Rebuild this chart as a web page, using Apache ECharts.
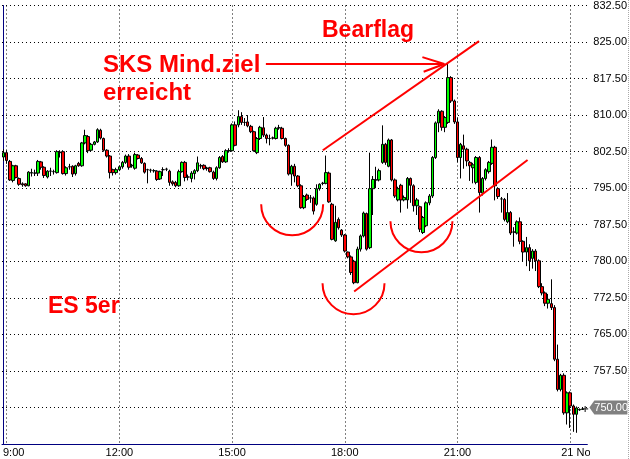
<!DOCTYPE html>
<html><head><meta charset="utf-8">
<script src="https://cdn.jsdelivr.net/npm/echarts@6/dist/echarts.min.js"></script>
<style>html,body{margin:0;padding:0;background:#fff}#c{width:630px;height:459px}</style>
</head><body><div id="c"></div>
<script>
// ---- time axis ----
const startMinutes = 8 * 60 + 55;   // first 5-minute bar: 8:55
const barMinutes = 5;
const categoryCount = 187;
const tickLabels = {'9:00': '9:00', '12:00': '12:00', '15:00': '15:00', '18:00': '18:00', '21:00': '21:00', '0:00': '21 Nov'};

// ---- price axis ----
const priceMin = 742.5, priceMax = 832.5, priceStep = 7.5;
const lastPrice = 750.00;

// ---- OHLC (5-minute bars) ----
const opens = [801.4,802.3,800.5,796.6,799.6,797,795.9,795.9,795.5,798.1,
798.1,798.1,800.4,799.3,797.3,798.5,798.4,798.2,802.3,802.5,
798,799.4,799.5,798,800.1,799.6,804.3,805.6,802.8,804,
804.5,806.9,805.2,802.8,801.6,798.8,798.2,798.8,799.4,800.3,
801.6,799.6,799.1,801.8,801.1,800.1,798.8,798.7,798.6,798.5,
796.9,798.8,798.9,798.5,796.3,796.2,795.5,798.4,800.3,797.3,
797,798,798.6,799.6,799.7,799.1,799.2,798.3,797,799.2,
801.5,800.4,802.7,802.7,808,808,809.7,808.5,808.6,807.7,
806.6,802.3,805.2,807.4,805.9,805.2,805.3,805.2,807.4,807.3,
805.2,803.8,797.9,799.5,797.5,795.5,791,793.6,793,793,
791.7,794.9,796,796,798.1,791.7,784.2,788.6,786.4,785.4,
781.9,780.9,780,775.6,782.5,785.2,789.8,782.8,794.9,796.7,
796.7,800.3,804,799.5,804.9,796.7,792.6,795.6,792.6,792.6,
797,795.5,791.4,791.2,785.9,787.3,792,793.4,801.3,808.4,
810.8,807.5,808.5,817.7,812.9,808.6,801.3,803.7,803,800.3,
799.2,796.2,801.3,794,797,798.4,800.1,803.4,794.9,792.8,
792.7,788.1,790,786,785.8,788.1,784.1,781.9,782.8,780.6,
782.1,780.1,774.8,773.5,771.4,771.3,770.5,759.9,753.7,756.6,
748.9,753,750.3,748.6,749.5,749.6];
const closes = [802.3,800.7,796.7,799.6,797.2,795.8,795.7,795.5,798.3,798.2,
798.1,800.5,799.3,797.6,798.5,798.5,798.4,802.5,802.4,798,
799.2,799.4,797.9,799.6,799.6,804.3,805.8,802.7,804,804.5,
807,805.3,802.8,801.6,798.2,798.2,798.8,799.4,800.3,801.6,
799.3,799.7,801.9,801.1,800.2,798.3,798.8,798.7,798.6,796.8,
798.4,798.8,798.9,796.2,795.9,795.5,798.4,800.3,797.2,797.3,
798.1,798.6,800.2,799.6,799,799.1,798.4,797,799.2,801.3,
800.4,802.7,802.7,808,803.8,809.7,808.5,808.5,807.8,806.6,
802.7,805.2,807.5,805.9,805.2,805.2,805.3,807.3,807.4,805.2,
803.8,797.9,799.5,797.5,795.5,791,793.3,792.7,793,790.3,
794.9,795.8,796,798.2,792.2,784.5,788,786.9,785.4,782.1,
780.9,777.7,775.6,782.5,785.2,789.9,782.5,794.9,796.8,796.7,
798.6,804,800.3,804.9,796.7,793.4,794.9,792.6,793.1,797,
795.6,791.4,792.6,786.6,789,792,793.4,801.3,808.4,810.8,
807.5,809.5,817.7,812.9,808.6,801.3,804,803,800.6,799.6,
799.8,801.3,794.1,797,798.8,800.3,803.4,795.5,793.3,792.8,
788.6,790,785.8,786,788.1,784.1,781.9,782.8,780.1,782.1,
780.1,774.8,773.5,771.4,772.2,770.5,759.9,753.7,756.6,748.9,
753,750.3,748.6,749.9,749.6,749.7];
const lows = [800.6,800,796.5,796.2,797,795.5,795.3,795.3,795.4,797.4,
797.5,797.5,798.8,797.1,797,797.5,797.8,798,801.3,797.8,
797.6,798.8,797.3,797.6,799.4,799.4,804,802.2,802.5,803.8,
804.3,805,802.5,801.3,797,797.6,797.8,798.5,799,800,
798.8,799.2,798.8,800.9,800,798,796,798.2,798.2,796.5,
796.7,797.5,798.5,795.5,795.5,795.2,795.3,798.2,796.4,796.6,
796.2,796.8,798.3,799,798.7,798.6,798.2,796.7,796.6,799,
800.2,800.2,802.3,802.5,803.6,807.5,808,807.8,807.5,806.3,
802.5,802,804.9,805.5,804.2,803.8,805,805,807,805,
803.5,797.6,795.5,796.2,795.2,790.8,790.7,792.4,792,789.6,
791.4,794.5,795.6,795.8,792,784.3,784,786.5,785,781.8,
780.6,777.2,775.3,775.5,782,784.9,782.2,782.5,789.5,795,
796.4,800,799.8,799.3,796.4,793,792.3,790,792.3,790.8,
792,790.2,789.5,786,785.6,787,791.5,793,801,806.5,
806.8,806.5,808.2,812.5,808.2,800.3,797,799,799.5,796.5,
796,795.8,790,793.5,796.6,798,799.8,792.5,792.8,790,
788.2,787.8,785.4,783,785.5,783.5,780,779,778,778.5,
778,774.5,773,770.8,770.3,770,759.5,753.3,753.3,748.5,
746.5,745.8,745,744.8,749.3,749.5];
const highs = [803,802.8,800.8,799.8,799.8,797.2,796.2,796,798.5,799,
798.8,800.8,800.6,799.5,798.7,799.2,798.8,802.8,802.8,802.8,
799.5,800,799.7,799.8,800.4,804.5,807,805.9,804.3,804.7,
807.3,807.2,805.4,803,801.8,799,799.2,799.7,800.6,801.9,
802,800,802.3,802,801.4,800.3,799,799,798.9,798.7,
798.6,799.3,799.2,798.8,796.6,796.5,798.8,800.5,800.6,797.8,
798.5,798.9,801.5,800,799.9,799.4,799.4,798.6,799.5,801.6,
801.8,803,803.2,808.3,808.7,811,810.6,809.4,810,808,
806.8,805.5,807.8,809.6,806.2,806,805.6,807.6,808,807.6,
805.4,804,799.8,800,797.7,795.8,793.6,793.9,793.6,793.3,
795.8,796,796.3,801.7,798.4,792,791.4,789,786.6,785.6,
782,781.2,780.3,783,785.5,790.2,790,802.3,797.5,799.4,
799,807.9,804.3,805.2,805.1,797,795.3,795.9,793.5,797.3,
797.2,795.8,793,791.4,789.3,792.3,793.8,801.6,808.7,811.2,
811,809.8,820.7,818,813.2,809.5,804.3,806,803.3,800.6,
800.2,801.6,801.6,797.3,799.1,800.6,805,803.7,795.2,793.2,
793,794,790.3,787,788.4,789,784.3,785,783.5,782.5,
782.5,780.4,775.5,773.8,773.3,776.3,771,762.9,756.9,757,
753.3,753.3,750.6,750.2,749.8,750];

// ---- hand-drawn annotations, in data coordinates (bar index, price) ----
const flagUpperLine = [[102.0, 802.8], [151.9, 825.2]];
const flagLowerLine = [[112.0, 773.8], [167.4, 800.8]];
const arrowShaft = [[83.8, 820.5], [140.8, 820.5]];
const arrowHead = [[133.8, 821.9], [140.8, 820.5], [134.2, 818.9]];
const arcCenters = [[92.2, 791.7], [111.8, 775.5], [133.5, 788.2]];
const arcRadiusBars = 9.9;

const categories = [];
for (let i = 0; i < categoryCount; i++) {
  const m = startMinutes + i * barMinutes;
  categories.push((Math.floor(m / 60) % 24) + ':' + String(m % 60).padStart(2, '0'));
}
const candleData = opens.map((o, i) => [o, closes[i], lows[i], highs[i]]);
const isTick = (i, v) => Object.prototype.hasOwnProperty.call(tickLabels, v);
const FONT = '"Liberation Sans", Arial, sans-serif';
const RED = '#ff0000';

const chart = echarts.init(document.getElementById('c'), null, {renderer: 'canvas'});

function annot(data, extra) {
  return Object.assign({
    type: 'line', xAxisIndex: 1, yAxisIndex: 0, data: data, symbol: 'none', silent: true,
    lineStyle: {color: RED, width: 2}, z: 5, animation: false
  }, extra || {});
}

chart.setOption({
  animation: false,
  backgroundColor: '#ffffff',
  textStyle: {fontFamily: FONT},
  grid: {left: 0, right: 41, top: 5, bottom: 15},
  xAxis: [{
    type: 'category', data: categories, boundaryGap: true,
    axisLine: {show: true, lineStyle: {color: '#000080', width: 1}},
    axisTick: {show: false},
    axisLabel: {
      interval: isTick, color: '#000', fontSize: 11, margin: 3, fontFamily: FONT,
      formatter: v => v === '9:00' ? '{a|9:00}' : (v === '0:00' ? '{b|' + tickLabels[v] + '}' : (tickLabels[v] || v)),
      rich: {
        a: {padding: [0, 0, 0, 14], fontSize: 11, color: '#000', fontFamily: FONT},
        b: {padding: [0, 0, 0, 17], fontSize: 11, color: '#000', fontFamily: FONT}
      }
    },
    splitLine: {show: true, alignWithLabel: true, interval: isTick, lineStyle: {color: '#000', type: [1, 3], width: 1}}
  }, {
    type: 'value', show: false, min: -0.5, max: categoryCount - 0.5
  }],
  yAxis: {
    type: 'value', position: 'right', min: priceMin, max: priceMax, interval: priceStep,
    axisLine: {show: true, lineStyle: {color: '#000080', width: 1}},
    axisTick: {show: false},
    axisLabel: {
      color: '#000', fontSize: 11, margin: 6, fontFamily: FONT,
      formatter: v => (v < priceMin + 0.01 || Math.abs(v - lastPrice) < 0.01) ? '' : v.toFixed(2)
    },
    splitLine: {show: true, lineStyle: {color: '#000', type: [1, 3], width: 1}}
  },
  series: [
    {
      type: 'candlestick', data: candleData, barWidth: 3, z: 3,
      itemStyle: {color: '#00ff00', color0: '#ff0000', borderColor: '#000', borderColor0: '#000', borderColorDoji: '#000', borderWidth: 1}
    },
    annot(flagUpperLine),
    annot(flagLowerLine),
    annot(arrowShaft),
    annot(arrowHead),
    {
      type: 'scatter', xAxisIndex: 1, yAxisIndex: 0, silent: true, z: 6,
      data: [[closes.length - 0.2, closes[closes.length - 1]]],
      symbol: 'path://M2,0h1v2h2v1h-2v2h-1v-2h-2v-1h2z', symbolSize: 6,
      itemStyle: {color: '#000'}
    }
  ]
});

// arcs (smile shapes) placed through the chart's own scales
const arcs = arcCenters.map(c => {
  const p = chart.convertToPixel({seriesIndex: 1}, c);
  const q = chart.convertToPixel({seriesIndex: 1}, [c[0] + arcRadiusBars, c[1]]);
  const r = q[0] - p[0];
  return {
    type: 'arc', silent: true, z: 50,
    shape: {cx: p[0], cy: p[1], r: r, startAngle: 0, endAngle: Math.PI, clockwise: true},
    style: {stroke: RED, lineWidth: 2, fill: null}
  };
});

// last-price tag on the price axis, placed through the y scale
const tagY = chart.convertToPixel({yAxisIndex: 0}, lastPrice);
const axisX = chart.convertToPixel({seriesIndex: 1}, [categoryCount - 0.5, lastPrice])[0];
const tag = {
  type: 'group', x: axisX, y: tagY, z: 90, silent: true,
  children: [
    {type: 'polygon', shape: {points: [[2, 0], [7, -7], [40, -7], [40, 7], [7, 7]]}, style: {fill: '#808080'}},
    {type: 'text', x: 7, y: 0.5, style: {text: lastPrice.toFixed(2), fill: '#fff', font: '11px ' + FONT, textVerticalAlign: 'middle', verticalAlign: 'middle', textAlign: 'left', align: 'left'}}
  ]
};

function txt(text, x, y, size) {
  return {
    type: 'text', x: x, y: y, silent: true, z: 60,
    style: {text: text, fill: RED, font: 'bold ' + size + 'px ' + FONT, textAlign: 'left', textVerticalAlign: 'middle', align: 'left', verticalAlign: 'middle'}
  };
}

chart.setOption({
  graphic: arcs.concat([
    txt('Bearflag', 322, 30.5, 23),
    txt('SKS Mind.ziel', 103, 65.3, 24),
    txt('erreicht', 103, 93.1, 24),
    txt('ES 5er', 48, 306.7, 23),
    tag,
    {type: 'rect', silent: true, z: 100, shape: {x: 590, y: 445, width: 40, height: 14}, style: {fill: '#fff'}},
    {type: 'line', silent: true, z: 100, shape: {x1: 628.5, y1: 0, x2: 628.5, y2: 459}, style: {stroke: '#aaaaaa', lineWidth: 1, lineDash: [1, 1]}}
  ])
});
</script>
</body></html>
